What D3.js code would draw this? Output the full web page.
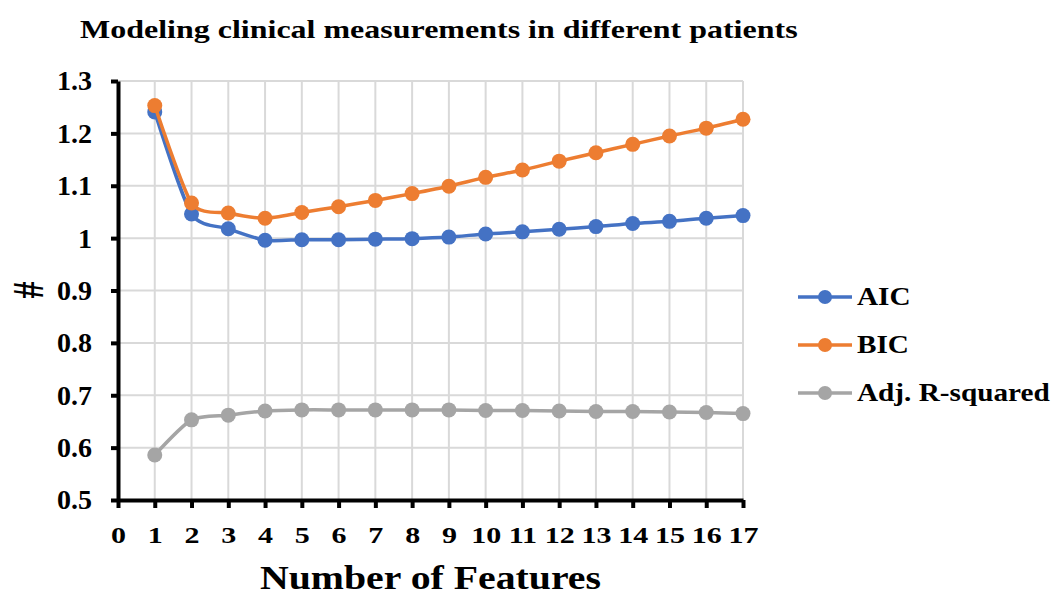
<!DOCTYPE html>
<html>
<head>
<meta charset="utf-8">
<script src="https://cdn.jsdelivr.net/npm/d3@7"></script>
<style>
  body { margin: 0; background: #fff; }
  text { font-family: "Liberation Serif", "Times New Roman", serif; font-weight: bold; fill: #000; }
</style>
</head>
<body>
<div id="chart-area"></div>
<script>
const features = [1, 2, 3, 4, 5, 6, 7, 8, 9, 10, 11, 12, 13, 14, 15, 16, 17];
const aic = [1.241, 1.046, 1.018, 0.996, 0.997, 0.997, 0.998, 0.999, 1.002, 1.008, 1.012, 1.017, 1.022, 1.028, 1.032, 1.038, 1.043];
const bic = [1.253, 1.067, 1.048, 1.038, 1.049, 1.060, 1.072, 1.085, 1.099, 1.116, 1.130, 1.147, 1.163, 1.179, 1.195, 1.210, 1.227];
const adjR2 = [0.586, 0.653, 0.662, 0.670, 0.672, 0.672, 0.672, 0.672, 0.672, 0.671, 0.671, 0.670, 0.669, 0.669, 0.668, 0.667, 0.665];
const seriesNames = ["AIC", "BIC", "Adj. R-squared"];
const colors = ["#4472C4", "#ED7D31", "#A5A5A5"];
const xTicks = d3.range(0, 18);
const yTicks = [0.5, 0.6, 0.7, 0.8, 0.9, 1, 1.1, 1.2, 1.3];

const W = 1052, H = 597;
const margin = {top: 81, right: 309, bottom: 97, left: 118};
const width = W - margin.left - margin.right;
const height = H - margin.top - margin.bottom;

const svg = d3.select('#chart-area')
  .append('svg')
  .attr('width', W)
  .attr('height', H);

const g = svg.append('g')
  .attr('transform', `translate(${margin.left}, ${margin.top})`);

const x = d3.scaleLinear().domain([0, 17]).range([0, width]);
const y = d3.scaleLinear().domain([0.5, 1.3]).range([height, 0]);

// grid
g.append('g').selectAll('line')
  .data(xTicks.slice(1))
  .enter().append('line')
  .attr('x1', d => x(d)).attr('x2', d => x(d))
  .attr('y1', 0).attr('y2', height)
  .attr('stroke', '#d9d9d9').attr('stroke-width', 2);

g.append('g').selectAll('line')
  .data(yTicks.slice(1))
  .enter().append('line')
  .attr('x1', 0).attr('x2', width)
  .attr('y1', d => y(d)).attr('y2', d => y(d))
  .attr('stroke', '#d9d9d9').attr('stroke-width', 2);

// axes
const xAxis = g.append('g')
  .attr('transform', `translate(0, ${height})`)
  .call(d3.axisBottom(x).tickValues(xTicks).tickSize(8).tickSizeOuter(0).tickPadding(18).tickFormat(d3.format('d')));

const yAxis = g.append('g')
  .call(d3.axisLeft(y).tickValues(yTicks).tickSize(7).tickSizeOuter(0).tickPadding(19).tickFormat(d => d === 1 ? '1' : d3.format('.1f')(d)));

[xAxis, yAxis].forEach(a => {
  a.select('.domain').attr('stroke', '#000').attr('stroke-width', 4);
  a.selectAll('.tick line').attr('stroke', '#000').attr('stroke-width', 4);
  a.selectAll('.tick text')
    .style('font-family', '"Liberation Serif", serif')
    .style('font-weight', 'bold')
    .attr('fill', '#000');
});
xAxis.selectAll('.tick text').style('font-size', '24px').attr('transform', 'scale(1.25,1)');
yAxis.selectAll('.tick text').style('font-size', '28px');

// series
const allSeries = [aic, bic, adjR2];
const line = d3.line()
  .x((d, i) => x(features[i]))
  .y(d => y(d))
  .curve(d3.curveCardinal.tension(0.3));

allSeries.forEach((vals, si) => {
  g.append('path')
    .datum(vals)
    .attr('fill', 'none')
    .attr('stroke', colors[si])
    .attr('stroke-width', 3.5)
    .attr('d', line);
  g.append('g').selectAll('circle')
    .data(vals)
    .enter().append('circle')
    .attr('cx', (d, i) => x(features[i]))
    .attr('cy', d => y(d))
    .attr('r', 7.5)
    .attr('fill', colors[si]);
});

// title
svg.append('text')
  .attr('transform', 'translate(80, 38) scale(1.28,1)')
  .style('font-size', '25px')
  .text('Modeling clinical measurements in different patients');

// axis titles
svg.append('text')
  .attr('transform', `translate(${margin.left + width / 2}, 589) scale(1.17,1)`)
  .attr('text-anchor', 'middle')
  .style('font-size', '34px')
  .text('Number of Features');

svg.append('text')
  .attr('transform', 'translate(43, 290) scale(1.3,1) rotate(-90)')
  .attr('text-anchor', 'middle')
  .style('font-size', '34px')
  .text('#');

// legend
const legend = svg.append('g').attr('transform', 'translate(798, 297)');
seriesNames.forEach((name, i) => {
  const row = legend.append('g').attr('transform', `translate(0, ${i * 48})`);
  row.append('line')
    .attr('x1', 0).attr('x2', 54).attr('y1', 0).attr('y2', 0)
    .attr('stroke', colors[i]).attr('stroke-width', 3.5);
  row.append('circle').attr('cx', 27).attr('cy', 0).attr('r', 7).attr('fill', colors[i]);
  row.append('text')
    .attr('transform', 'translate(59, 8) scale(1.17,1)')
    .style('font-size', '25px')
    .text(name);
});
</script>
</body>
</html>
